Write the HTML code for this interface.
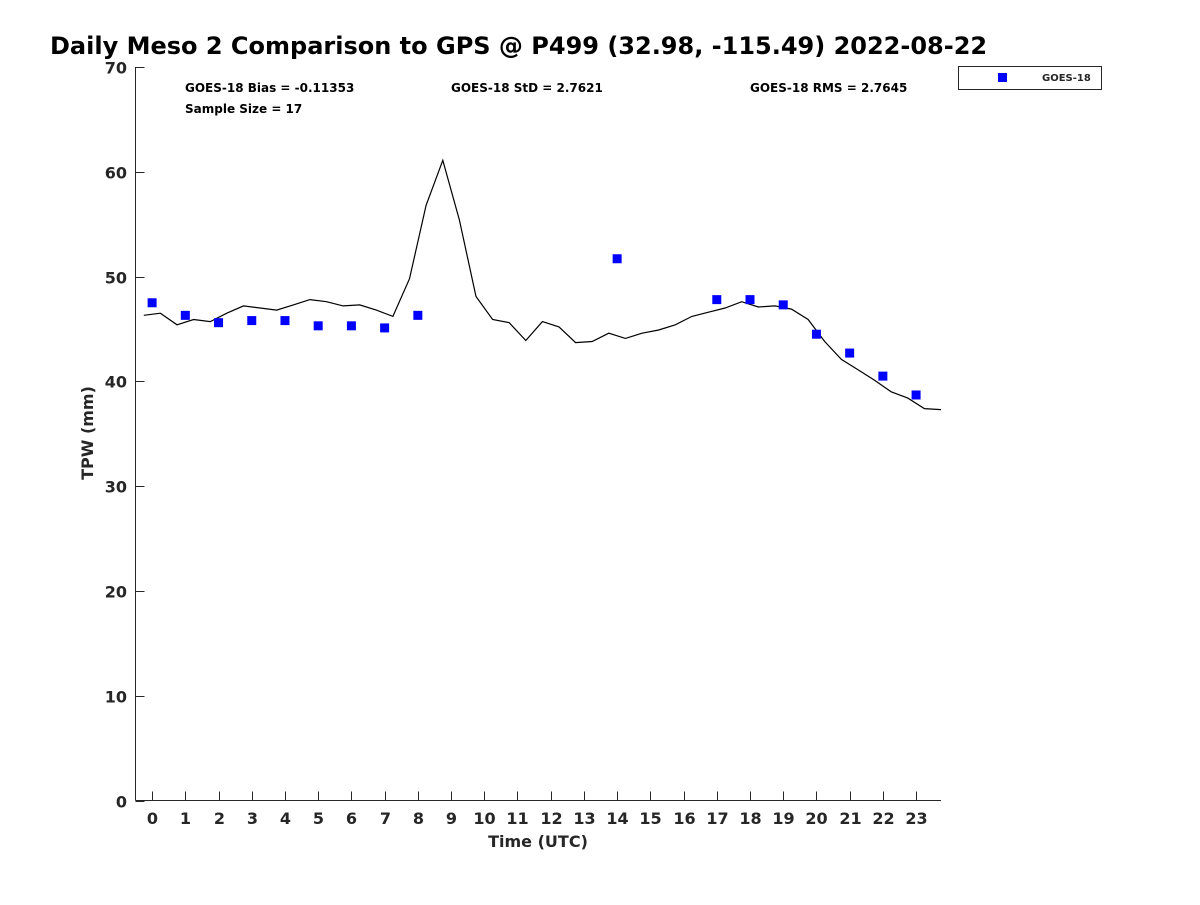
<!DOCTYPE html>
<html><head><meta charset="utf-8"><style>
body{margin:0;background:#fff;}
svg text{font-family:"DejaVu Sans","Liberation Sans",sans-serif;font-weight:bold;fill:#262626;}
</style></head><body>
<svg id="chart" width="1200" height="900" viewBox="0 0 1200 900" xmlns="http://www.w3.org/2000/svg">
<rect width="1200" height="900" fill="#fff"/>
<text x="50" y="54" font-size="24" style="fill:#000">Daily Meso 2 Comparison to GPS @ P499 (32.98, -115.49) 2022-08-22</text>
<g id="axes"></g>
<g id="series"></g>
<text x="185" y="92" font-size="12" style="fill:#000">GOES-18 Bias = -0.11353</text>
<text x="185" y="113" font-size="12" style="fill:#000">Sample Size = 17</text>
<text x="451" y="92" font-size="12" style="fill:#000">GOES-18 StD = 2.7621</text>
<text x="750" y="92" font-size="12" style="fill:#000">GOES-18 RMS = 2.7645</text>
<g>
<rect x="958.5" y="66.5" width="143" height="23" fill="#fff" stroke="#262626" stroke-width="1"/>
<rect x="998" y="73" width="9" height="9" fill="#0000ff"/>
<text x="1042" y="81" font-size="10">GOES-18</text>
</g>
<text x="538" y="847" font-size="16" text-anchor="middle">Time (UTC)</text>
<text transform="translate(93,433) rotate(-90)" font-size="16" text-anchor="middle">TPW (mm)</text>
</svg>
<script>
const xTicks = [0,1,2,3,4,5,6,7,8,9,10,11,12,13,14,15,16,17,18,19,20,21,22,23];
const yTicks = [0,10,20,30,40,50,60,70];
const gpsTimes = [];
for (let i = 0; i < 49; i++) gpsTimes.push(-0.25 + i * 0.5);
const gpsTPW = [46.3,46.5,45.4,45.9,45.7,46.5,47.2,47.0,46.8,47.3,47.8,47.6,47.2,47.3,46.8,46.2,49.8,56.8,61.1,55.4,48.1,45.9,45.6,43.9,45.7,45.2,43.7,43.8,44.6,44.1,44.6,44.9,45.4,46.2,46.6,47.0,47.6,47.1,47.2,46.9,45.9,43.8,42.1,41.1,40.1,39.0,38.4,37.4,37.3];
const goesHours = [0,1,2,3,4,5,6,7,8,14,17,18,19,20,21,22,23];
const goesTPW = [47.5,46.3,45.6,45.8,45.8,45.3,45.3,45.1,46.3,51.7,47.8,47.8,47.3,44.5,42.7,40.5,38.7];

const NS = "http://www.w3.org/2000/svg";
const X0 = 135.5, X1 = 941, XMIN = -0.5, XMAX = 23.75;
const Y0 = 800.5, Y1 = 67, YMIN = 0, YMAX = 70;
const xs = v => X0 + (v - XMIN) / (XMAX - XMIN) * (X1 - X0);
const ys = v => Y0 - (v - YMIN) / (YMAX - YMIN) * (Y0 - Y1);
function mk(tag, attrs, parent) {
  const e = document.createElementNS(NS, tag);
  for (const k in attrs) e.setAttribute(k, attrs[k]);
  parent.appendChild(e);
  return e;
}
const axes = document.getElementById('axes');
const series = document.getElementById('series');
const yAxis = mk('line', {x1: X0, y1: Y1, x2: X0, y2: Y0, stroke: '#262626', 'stroke-width': 1}, axes);


const xAxis = mk('line', {x1: X0, y1: Y0, x2: X1, y2: Y0, stroke: '#262626', 'stroke-width': 1}, axes);


xTicks.forEach(t => {
  const x = Math.round(xs(t)) + 0.5;
  const tk = mk('line', {x1: x, y1: Y0, x2: x, y2: Y0 - 9, stroke: '#262626', 'stroke-width': 1}, axes);
  
  
  const lb = mk('text', {x: x, y: 824, 'font-size': 16, 'text-anchor': 'middle'}, axes);
  lb.textContent = t;
  
  
});
yTicks.forEach(t => {
  const y = Math.round(ys(t)) + 0.5;
  const tk = mk('line', {x1: X0, y1: y, x2: X0 + 9, y2: y, stroke: '#262626', 'stroke-width': 1}, axes);
  
  
  const lb = mk('text', {x: 127, y: y + 6, 'font-size': 16, 'text-anchor': 'end'}, axes);
  lb.textContent = t;
  
  
});
const pts = gpsTimes.map((t, i) => xs(t).toFixed(1) + ',' + ys(gpsTPW[i]).toFixed(1)).join(' ');
const line = mk('polyline', {points: pts, fill: 'none', stroke: '#000', 'stroke-width': 1.2}, series);


goesHours.forEach((h, i) => {
  const m = mk('rect', {x: xs(h) - 4.5, y: ys(goesTPW[i]) - 4.5, width: 9, height: 9, fill: '#0000ff'}, series);
  
  
});
</script>
</body></html>
